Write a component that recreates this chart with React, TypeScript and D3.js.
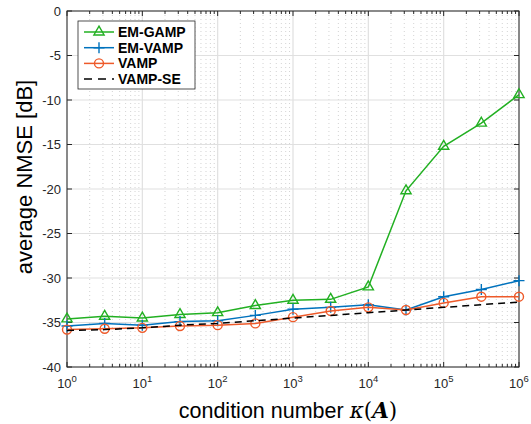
import * as d3 from "d3";
import { useEffect, useRef } from "react";

// condition numbers (half-decade steps)
const kappa = [1, 3.162, 10, 31.62, 100, 316.2, 1e3, 3162, 1e4, 31623, 1e5, 316228, 1e6];

const emGamp = [-34.6, -34.3, -34.5, -34.1, -33.9, -33.1, -32.5, -32.4, -31.0, -20.2, -15.2, -12.6, -9.4];
const emVamp = [-35.4, -35.1, -35.3, -34.9, -34.8, -34.2, -33.5, -33.3, -33.0, -33.6, -32.1, -31.3, -30.3];
const vamp = [-35.8, -35.7, -35.6, -35.4, -35.3, -35.1, -34.4, -33.7, -33.3, -33.6, -32.8, -32.1, -32.1];
const vampSe = [-35.9, -35.8, -35.6, -35.3, -35.1, -34.8, -34.5, -34.2, -33.9, -33.6, -33.3, -33.0, -32.7];

const yTicks = [0, -5, -10, -15, -20, -25, -30, -35, -40];
const xTicks = [0, 1, 2, 3, 4, 5, 6];

const legendNames = ["EM-GAMP", "EM-VAMP", "VAMP", "VAMP-SE"];

const App = () => {
  const ref = useRef<SVGSVGElement>(null);

  useEffect(() => {
    const svg = d3.select(ref.current);
    svg.selectAll("*").remove();

    const margin = { top: 11, right: 12, bottom: 57, left: 67 },
      width = 531 - margin.left - margin.right,
      height = 424 - margin.top - margin.bottom;

    const font = "'Liberation Sans', Arial, sans-serif";

    const g = svg.append("g").attr("transform", `translate(${margin.left}, ${margin.top})`);

    const x = d3.scaleLog().domain([1, 1e6]).range([0, width]);
    const y = d3.scaleLinear().domain([-40, 0]).range([height, 0]);

    // minor values for grid / ticks
    const minor: number[] = [];
    for (let e = 0; e < 6; e++) {
      for (let m = 2; m <= 9; m++) minor.push(m * Math.pow(10, e));
    }

    // minor vertical grid (dotted)
    g.selectAll(".mgrid").data(minor).enter().append("line")
      .attr("x1", (d) => x(d)).attr("x2", (d) => x(d))
      .attr("y1", 0).attr("y2", height)
      .attr("stroke", "#c8c8c8").attr("stroke-width", 0.8)
      .attr("stroke-dasharray", "1,3");

    // major grid
    g.selectAll(".xgrid").data(xTicks).enter().append("line")
      .attr("x1", (d) => x(Math.pow(10, d))).attr("x2", (d) => x(Math.pow(10, d)))
      .attr("y1", 0).attr("y2", height)
      .attr("stroke", "#e0e0e0").attr("stroke-width", 1.2);
    g.selectAll(".ygrid").data(yTicks).enter().append("line")
      .attr("x1", 0).attr("x2", width)
      .attr("y1", (d) => y(d)).attr("y2", (d) => y(d))
      .attr("stroke", "#e0e0e0").attr("stroke-width", 1.2);

    // axes box
    g.append("rect").attr("width", width).attr("height", height)
      .attr("fill", "none").attr("stroke", "#262626").attr("stroke-width", 1);

    // ticks
    const tk = 5, mtk = 3;
    xTicks.forEach((d) => {
      const xx = x(Math.pow(10, d));
      g.append("line").attr("x1", xx).attr("x2", xx).attr("y1", height).attr("y2", height - tk).attr("stroke", "#262626");
      g.append("line").attr("x1", xx).attr("x2", xx).attr("y1", 0).attr("y2", tk).attr("stroke", "#262626");
      const t = g.append("text").attr("x", xx).attr("y", height + 21)
        .attr("text-anchor", "middle").attr("font-family", font).attr("font-size", 13).attr("fill", "#262626");
      t.append("tspan").text("10");
      t.append("tspan").attr("dy", -6).attr("font-size", 9.5).text(String(d));
    });
    minor.forEach((d) => {
      g.append("line").attr("x1", x(d)).attr("x2", x(d)).attr("y1", height).attr("y2", height - mtk).attr("stroke", "#262626");
      g.append("line").attr("x1", x(d)).attr("x2", x(d)).attr("y1", 0).attr("y2", mtk).attr("stroke", "#262626");
    });
    yTicks.forEach((d) => {
      g.append("line").attr("x1", 0).attr("x2", tk).attr("y1", y(d)).attr("y2", y(d)).attr("stroke", "#262626");
      g.append("line").attr("x1", width).attr("x2", width - tk).attr("y1", y(d)).attr("y2", y(d)).attr("stroke", "#262626");
      g.append("text").attr("x", -6).attr("y", y(d)).attr("dy", "0.35em")
        .attr("text-anchor", "end").attr("font-family", font).attr("font-size", 13).attr("fill", "#262626")
        .text(String(d));
    });

    // axis labels
    svg.append("text")
      .attr("transform", `translate(32, 177) rotate(-90)`)
      .attr("text-anchor", "middle").attr("font-family", font).attr("font-size", 22).attr("fill", "#000")
      .text("average NMSE [dB]");

    const xl = svg.append("text")
      .attr("x", 288).attr("y", 418)
      .attr("text-anchor", "middle").attr("font-family", font).attr("font-size", 21.5).attr("fill", "#000");
    xl.append("tspan").text("condition number ");
    xl.append("tspan").attr("font-family", "'DejaVu Serif', serif").attr("font-style", "italic").text("κ");
    xl.append("tspan").attr("font-family", "'DejaVu Serif', serif").text("(");
    xl.append("tspan").attr("font-family", "'DejaVu Serif', serif").attr("font-style", "italic").attr("font-weight", "bold").text("A");
    xl.append("tspan").attr("font-family", "'DejaVu Serif', serif").text(")");

    // series
    const line = d3.line<number>()
      .x((_, i) => x(kappa[i]))
      .y((d) => y(d));

    const green = "#22b022", blue = "#0072BD", orange = "#EE5A2A";

    const triangle = (sel: any, color: string) => {
      sel.append("path").attr("d", d3.symbol().type(d3.symbolTriangle).size(45)())
        .attr("fill", "none").attr("stroke", color).attr("stroke-width", 1.4);
    };
    const plus = (sel: any, color: string) => {
      sel.append("path").attr("d", "M-5.5,0H5.5M0,-5.5V5.5")
        .attr("fill", "none").attr("stroke", color).attr("stroke-width", 1.4);
    };
    const circle = (sel: any, color: string) => {
      sel.append("circle").attr("r", 4.5)
        .attr("fill", "none").attr("stroke", color).attr("stroke-width", 1.4);
    };

    const drawSeries = (data: number[], color: string, marker: any) => {
      g.append("path").datum(data).attr("d", line)
        .attr("fill", "none").attr("stroke", color).attr("stroke-width", 1.5);
      data.forEach((d, i) => {
        const m = g.append("g").attr("transform", `translate(${x(kappa[i])}, ${y(d)})`);
        marker(m, color);
      });
    };

    drawSeries(emGamp, green, triangle);
    drawSeries(emVamp, blue, plus);
    drawSeries(vamp, orange, circle);
    g.append("path").datum(vampSe).attr("d", line)
      .attr("fill", "none").attr("stroke", "#000").attr("stroke-width", 1.5)
      .attr("stroke-dasharray", "7,5");

    // legend
    const lg = svg.append("g").attr("transform", "translate(78, 21)");
    lg.append("rect").attr("width", 117).attr("height", 68)
      .attr("fill", "#fff").attr("stroke", "#262626").attr("stroke-width", 0.8);
    const colors = [green, blue, orange, "#000"];
    const markers = [triangle, plus, circle, null];
    legendNames.forEach((name, i) => {
      const yy = 11 + i * 15.7;
      const row = lg.append("g").attr("transform", `translate(0, ${yy})`);
      row.append("line").attr("x1", 6).attr("x2", 36).attr("y1", 0).attr("y2", 0)
        .attr("stroke", colors[i]).attr("stroke-width", 1.5)
        .attr("stroke-dasharray", i === 3 ? "8,6" : null);
      if (markers[i]) {
        const m = row.append("g").attr("transform", "translate(21, 0)");
        markers[i](m, colors[i]);
      }
      row.append("text").attr("x", 40).attr("y", 0).attr("dy", "0.35em")
        .attr("font-family", font).attr("font-weight", "bold").attr("font-size", 14).attr("fill", "#000")
        .text(name);
    });
  }, []);

  return <svg ref={ref} width={531} height={424} style={{ position: "absolute", left: 0, top: 0 }} />;
};

export default App;
